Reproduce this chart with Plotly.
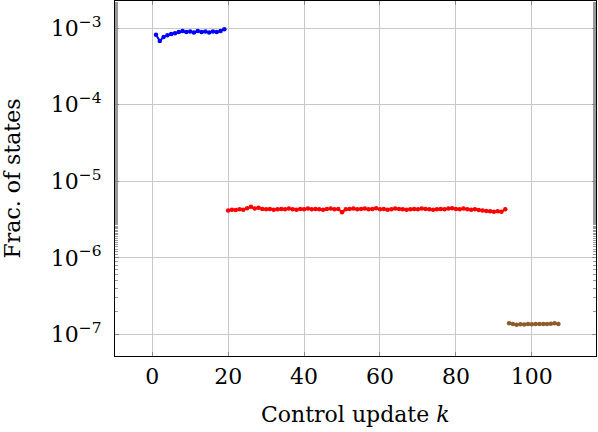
import plotly.graph_objects as go

# Fraction of states per control update, three phases
k_blue = list(range(1, 20))
frac_blue = [8.2e-4, 6.8e-4, 7.7e-4, 8.1e-4, 8.4e-4, 8.6e-4, 8.9e-4, 9.2e-4, 8.9e-4, 9.1e-4,
             8.8e-4, 9.2e-4, 8.9e-4, 9.1e-4, 8.8e-4, 9.1e-4, 8.9e-4, 9.2e-4, 9.7e-4]

k_red = list(range(20, 94))
frac_red = [4.15e-6, 4.25e-6, 4.2e-6, 4.3e-6, 4.25e-6, 4.45e-6, 4.65e-6, 4.4e-6, 4.5e-6, 4.35e-6,
            4.3e-6, 4.35e-6, 4.25e-6, 4.3e-6, 4.35e-6, 4.3e-6, 4.4e-6, 4.3e-6, 4.25e-6, 4.35e-6,
            4.3e-6, 4.4e-6, 4.3e-6, 4.35e-6, 4.3e-6, 4.25e-6, 4.35e-6, 4.4e-6, 4.3e-6, 4.35e-6,
            3.95e-6, 4.3e-6, 4.35e-6, 4.4e-6, 4.3e-6, 4.35e-6, 4.4e-6, 4.3e-6, 4.35e-6, 4.45e-6,
            4.3e-6, 4.35e-6, 4.25e-6, 4.3e-6, 4.4e-6, 4.35e-6, 4.3e-6, 4.25e-6, 4.3e-6, 4.35e-6,
            4.3e-6, 4.4e-6, 4.35e-6, 4.3e-6, 4.25e-6, 4.3e-6, 4.35e-6, 4.3e-6, 4.4e-6, 4.45e-6,
            4.35e-6, 4.3e-6, 4.4e-6, 4.3e-6, 4.25e-6, 4.3e-6, 4.2e-6, 4.15e-6, 4.1e-6, 4.05e-6,
            4.0e-6, 4.05e-6, 4.0e-6, 4.3e-6]

k_brown = list(range(94, 108))
frac_brown = [1.40e-7, 1.36e-7, 1.33e-7, 1.35e-7, 1.34e-7, 1.36e-7, 1.35e-7, 1.37e-7, 1.36e-7,
              1.37e-7, 1.36e-7, 1.38e-7, 1.40e-7, 1.36e-7]

x_ticks = [0, 20, 40, 60, 80, 100]
y_ticks = [1e-7, 1e-6, 1e-5, 1e-4, 1e-3]
y_ticktext = ["10<sup>\u22127</sup>", "10<sup>\u22126</sup>", "10<sup>\u22125</sup>",
              "10<sup>\u22124</sup>", "10<sup>\u22123</sup>"]

series = [
    (k_blue, frac_blue, "#0000ff"),
    (k_red, frac_red, "#ff0000"),
    (k_brown, frac_brown, "#8f5b2a"),
]

fig = go.Figure()
for xs, ys, color in series:
    fig.add_trace(go.Scatter(
        x=xs, y=ys, mode="lines+markers",
        line=dict(color=color, width=2),
        marker=dict(color=color, size=4.5, symbol="circle"),
        showlegend=False,
    ))

font = "DejaVu Serif, Liberation Serif, serif"
fig.update_layout(
    width=598, height=432,
    margin=dict(l=115, r=2, t=1, b=76),
    plot_bgcolor="white", paper_bgcolor="white",
    font=dict(family=font, size=22, color="black"),
)
fig.update_xaxes(
    range=[-9.8, 116.9],
    tickvals=x_ticks,
    automargin=False,
    showgrid=True, gridcolor="#c8c8c8", gridwidth=1,
    zeroline=False,
    showline=True, linecolor="black", linewidth=1.2, mirror="ticks",
    ticks="inside", ticklen=4, tickcolor="#888888",
)
fig.update_yaxes(
    type="log",
    range=[-7.283, -2.644],
    tickvals=y_ticks, ticktext=y_ticktext,
    ticklabelstandoff=8,
    automargin=False,
    showgrid=True, gridcolor="#c8c8c8", gridwidth=1,
    zeroline=False,
    showline=True, linecolor="black", linewidth=1.2, mirror="ticks",
    ticks="inside", ticklen=4, tickcolor="#888888",
    minor=dict(ticks="inside", ticklen=3, tickcolor="#999999", showgrid=False),
)

# axis titles as annotations for exact placement
fig.add_annotation(text="Control update <i>k</i>", xref="paper", yref="paper",
                   x=0.5, y=0, yshift=-58, xanchor="center", yanchor="middle",
                   showarrow=False)
fig.add_annotation(text="Frac. of states", xref="paper", yref="paper",
                   x=0, y=0.5, xshift=-103, xanchor="center", yanchor="middle",
                   textangle=-90, showarrow=False)

fig.write_html("out.html", config={"displayModeBar": False},
               post_script="document.body.style.margin='0';")
